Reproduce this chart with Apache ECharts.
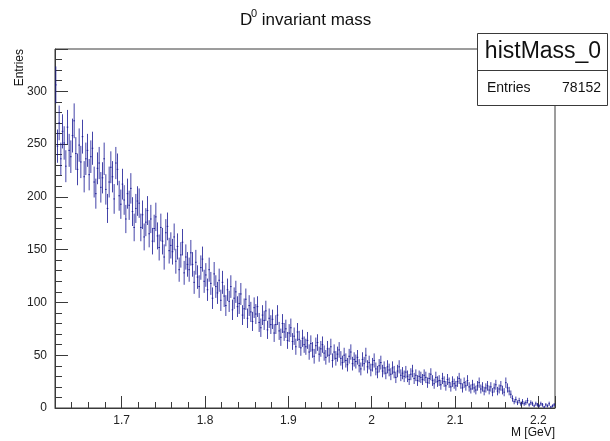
<!DOCTYPE html>
<html>
<head>
<meta charset="utf-8">
<script src="https://cdn.jsdelivr.net/npm/echarts@6/dist/echarts.min.js"></script>
<style>
html,body{margin:0;padding:0;background:#fff;}
#c{width:610px;height:441px;}
</style>
</head>
<body>
<div id="c"></div>
<script>
// Histogram definition
const histMin = 1.62;
const histMax = 2.22;
const binWidth = 0.002;
// Bin contents, 300 bins of 0.002 GeV from 1.62 to 2.22
const binValues = [
  306, 248, 270, 236, 262, 251, 229, 266, 244, 238,
  258, 272, 241, 226, 249, 233, 257, 219, 236, 244,
  221, 238, 246, 214, 203, 227, 232, 209, 218, 236,
  207, 189, 214, 228, 219, 198, 232, 226, 201, 193,
  212, 197, 179, 203, 192, 208, 186, 171, 189, 196,
  194, 171, 183, 162, 176, 187, 165, 179, 158, 170,
  181, 163, 152, 171, 158, 143, 166, 172, 149, 154,
  148, 162, 139, 153, 131, 145, 157, 128, 143, 136,
  131, 147, 136, 119, 138, 124, 115, 133, 141, 120,
  126, 112, 131, 118, 104, 127, 115, 109, 121, 102,
  119, 106, 97, 112, 101, 115, 93, 104, 110, 96,
  99, 108, 88, 94, 103, 85, 97, 91, 82, 95,
  89, 96, 81, 76, 88, 83, 92, 74, 85, 79,
  84, 71, 79, 88, 73, 67, 80, 72, 75, 64,
  71, 76, 63, 68, 58, 72, 65, 57, 66, 60,
  58, 64, 53, 61, 55, 49, 59, 62, 51, 56,
  60, 52, 48, 56, 50, 58, 45, 53, 47, 51,
  55, 47, 43, 50, 45, 41, 49, 53, 42, 46,
  44, 48, 40, 37, 46, 42, 50, 39, 43, 36,
  41, 45, 37, 34, 40, 43, 35, 38, 33, 39,
  36, 32, 38, 34, 29, 35, 39, 31, 33, 30,
  34, 30, 27, 32, 35, 28, 31, 26, 30, 29,
  27, 31, 29, 24, 28, 32, 26, 23, 29, 25,
  26, 22, 28, 25, 21, 27, 24, 20, 25, 23,
  21, 25, 28, 23, 19, 24, 21, 26, 20, 18,
  22, 19, 17, 21, 24, 18, 20, 16, 19, 21,
  17, 20, 15, 19, 22, 16, 18, 21, 17, 15,
  24, 19, 16, 13, 9, 6, 8, 5, 7, 4,
  6, 4, 5, 7, 3, 5, 4, 2, 4, 3,
  2, 4, 3, 1, 3, 2, 4, 1, 2, 3
];
const yMin = 0;
const yMax = 340;
const titleText = ['D', '0', ' invariant mass'];
const statsName = 'histMass_0';
const statsEntries = '78152';
const xTitle = 'M [GeV]';
const yTitle = 'Entries';

const histData = binValues.map((v, i) => [histMin + (i + 0.5) * binWidth, v]);

const chart = echarts.init(document.getElementById('c'), null, {renderer: 'canvas'});
const FONT = '"Liberation Sans", Arial, Helvetica, sans-serif';
const axisColor = '#3a3a3a';
const markColor = 'rgba(15,15,145,0.78)';

const option = {
  animation: false,
  backgroundColor: '#ffffff',
  grid: {left: 55, right: 55, top: 49, bottom: 33, show: true, borderColor: axisColor, borderWidth: 1, backgroundColor: 'transparent'},
  xAxis: [
    {
      type: 'value', min: histMin, max: histMax, splitNumber: 6,
      axisLine: {show: true, lineStyle: {color: axisColor}},
      axisTick: {show: true, inside: true, length: 12, lineStyle: {color: axisColor}},
      minorTick: {show: false},
      splitLine: {show: false},
      axisLabel: {
        color: '#222', fontFamily: FONT, fontSize: 12, margin: 7,
        formatter: function (v) {
          const r = Math.round(v * 10) / 10;
          return Math.abs(v - r) < 1e-6 ? String(r) : '';
        }
      }
    },
    {
      type: 'value', min: histMin, max: histMax, interval: 0.02, position: 'bottom',
      axisLine: {show: false},
      axisTick: {show: true, inside: true, length: 6, lineStyle: {color: axisColor}},
      splitLine: {show: false},
      axisLabel: {show: false}
    }
  ],
  yAxis: [
    {
      type: 'value', min: yMin, max: yMax, interval: 50,
      axisLine: {show: true, lineStyle: {color: axisColor}},
      axisTick: {show: true, inside: true, length: 13, lineStyle: {color: axisColor}},
      splitLine: {show: false},
      axisLabel: {
        color: '#222', fontFamily: FONT, fontSize: 12, margin: 8,
        formatter: function (v) { return (v % 50 === 0) ? String(v) : ''; }
      }
    },
    {
      type: 'value', min: yMin, max: yMax, interval: 10, position: 'left',
      axisLine: {show: false},
      axisTick: {show: true, inside: true, length: 7, lineStyle: {color: axisColor}},
      splitLine: {show: false},
      axisLabel: {show: false}
    }
  ],
  series: [{
    type: 'custom',
    xAxisIndex: 0, yAxisIndex: 0,
    clip: true,
    data: histData,
    renderItem: function (params, api) {
      const x = api.value(0), v = api.value(1);
      const e = Math.sqrt(v);
      const pT = api.coord([x, v + e]);
      const pB = api.coord([x, Math.max(v - e, 0)]);
      const pL = api.coord([x - binWidth / 2, v]);
      const pR = api.coord([x + binWidth / 2, v]);
      return {
        type: 'group',
        children: [
          {type: 'line', shape: {x1: pT[0], y1: pT[1], x2: pB[0], y2: pB[1]}, style: {stroke: markColor, lineWidth: 1}},
          {type: 'line', shape: {x1: pL[0], y1: pL[1], x2: pR[0], y2: pR[1]}, style: {stroke: markColor, lineWidth: 1}}
        ]
      };
    }
  }],
  graphic: [
    {type: 'text', left: 240, top: 12, style: {text: titleText[0], font: '17px ' + FONT, fill: '#111'}},
    {type: 'text', left: 251, top: 8, style: {text: titleText[1], font: '11px ' + FONT, fill: '#111'}},
    {type: 'text', left: 257, top: 12, style: {text: titleText[2], font: '17px ' + FONT, fill: '#111'}},
    {type: 'text', x: 20, y: 49, rotation: Math.PI / 2, style: {text: yTitle, font: '12px ' + FONT, fill: '#111', align: 'right', verticalAlign: 'middle'}},
    {type: 'text', x: 555, y: 433, style: {text: xTitle, font: '12px ' + FONT, fill: '#111', align: 'right', verticalAlign: 'middle'}},
    {type: 'rect', shape: {x: 477.5, y: 33.5, width: 130, height: 72}, style: {fill: '#fff', stroke: axisColor, lineWidth: 1}, z: 100},
    {type: 'line', shape: {x1: 477.5, y1: 70.5, x2: 607.5, y2: 70.5}, style: {stroke: axisColor, lineWidth: 1}, z: 101},
    {type: 'text', x: 543, y: 52, style: {text: statsName, font: '23px ' + FONT, fill: '#111', align: 'center', verticalAlign: 'middle'}, z: 102},
    {type: 'text', x: 487, y: 88, style: {text: 'Entries', font: '14px ' + FONT, fill: '#111', align: 'left', verticalAlign: 'middle'}, z: 102},
    {type: 'text', x: 601, y: 88, style: {text: statsEntries, font: '14px ' + FONT, fill: '#111', align: 'right', verticalAlign: 'middle'}, z: 102}
  ]
};
chart.setOption(option);
</script>
</body>
</html>
